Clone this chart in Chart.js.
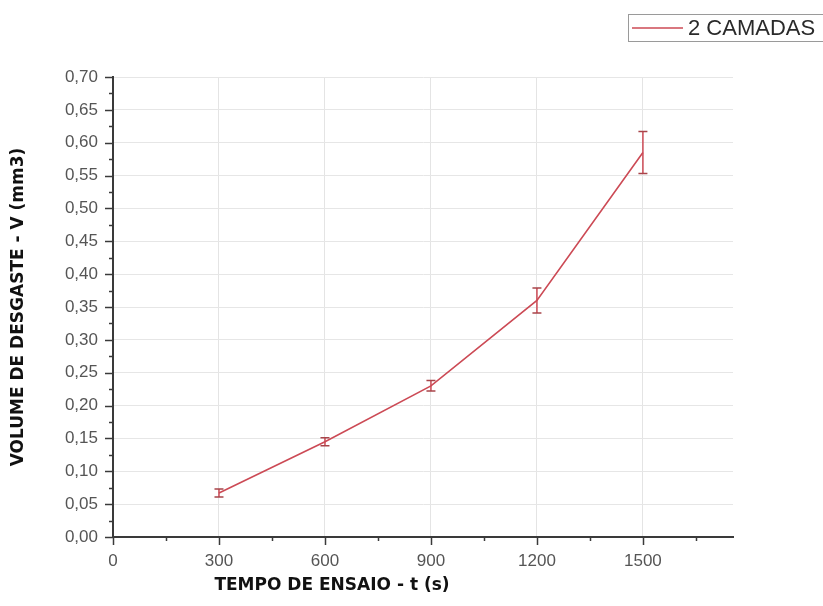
<!DOCTYPE html>
<html>
<head>
<meta charset="utf-8">
<script src="https://cdn.jsdelivr.net/npm/chart.js@4.4.1/dist/chart.umd.min.js"></script>
<style>
  html, body { margin: 0; padding: 0; background: #ffffff; }
  #wrap { position: relative; width: 823px; height: 606px; }
</style>
</head>
<body>
<div id="wrap"><canvas id="c" width="823" height="606"></canvas></div>
<script>
// Wear volume vs. test time, two-layer coating
const seriesLabel = '2 CAMADAS';
const times = [300, 600, 900, 1200, 1500];           // s
const volumes = [0.067, 0.145, 0.230, 0.360, 0.585];  // mm3
const errors = [0.006, 0.006, 0.008, 0.019, 0.032];   // ± mm3
const xTitle = 'TEMPO DE ENSAIO - t (s)';
const yTitle = 'VOLUME DE DESGASTE - V (mm3)';

const RED = '#cc4a55';
const AXIS = '#3a3a3a';
const FONT = 'Liberation Sans, Arial, sans-serif';
const TITLE_FONT = 'bold 17px "DejaVu Sans", sans-serif';

// error bars, minor ticks, axis titles and legend box
const decorations = {
  id: 'decorations',
  afterDatasetsDraw(chart) {
    const ctx = chart.ctx;
    const xs = chart.scales.x, ys = chart.scales.y;
    const area = chart.chartArea;
    ctx.save();

    // axis tick marks (major and minor)
    ctx.strokeStyle = AXIS;
    ctx.lineWidth = 1.5;
    for (let v = 0; v <= xs.max + 1e-9; v += 150) {
      const px = Math.round(xs.getPixelForValue(v)) + 0.5;
      const major = v % 300 === 0;
      ctx.beginPath();
      ctx.moveTo(px, area.bottom);
      ctx.lineTo(px, area.bottom + (major ? 8 : 4));
      ctx.stroke();
    }
    for (let i = 0; i <= 28; i++) {
      const v = i * 0.025;
      const py = Math.round(ys.getPixelForValue(v)) + 0.5;
      const major = i % 2 === 0;
      ctx.beginPath();
      ctx.moveTo(area.left, py);
      ctx.lineTo(area.left - (major ? 8 : 4), py);
      ctx.stroke();
    }

    // error bars
    ctx.strokeStyle = RED;
    ctx.lineWidth = 1.5;
    times.forEach((t, i) => {
      const px = xs.getPixelForValue(t);
      const top = ys.getPixelForValue(volumes[i] + errors[i]);
      const bot = ys.getPixelForValue(volumes[i] - errors[i]);
      ctx.beginPath();
      ctx.moveTo(px, top); ctx.lineTo(px, bot);
      ctx.stroke();
    });
    ctx.strokeStyle = '#a8444a';
    times.forEach((t, i) => {
      const px = xs.getPixelForValue(t);
      const top = ys.getPixelForValue(volumes[i] + errors[i]);
      const bot = ys.getPixelForValue(volumes[i] - errors[i]);
      ctx.beginPath();
      ctx.moveTo(px - 4.5, top); ctx.lineTo(px + 4.5, top);
      ctx.moveTo(px - 4.5, bot); ctx.lineTo(px + 4.5, bot);
      ctx.stroke();
    });

    // axis titles
    ctx.fillStyle = '#111111';
    ctx.font = TITLE_FONT;
    ctx.textAlign = 'center';
    ctx.textBaseline = 'middle';
    ctx.fillText(xTitle, 332, 586);
    ctx.save();
    ctx.translate(19, 307);
    ctx.rotate(-Math.PI / 2);
    ctx.fillText(yTitle, 0, 0);
    ctx.restore();

    // legend box
    ctx.strokeStyle = '#9a9a9a';
    ctx.lineWidth = 1;
    ctx.strokeRect(628.5, 14.5, 200, 27);
    ctx.strokeStyle = RED;
    ctx.lineWidth = 1.6;
    ctx.beginPath();
    ctx.moveTo(632, 28); ctx.lineTo(683, 28);
    ctx.stroke();
    ctx.fillStyle = '#2a2a2a';
    ctx.font = '22px ' + FONT;
    ctx.textAlign = 'left';
    ctx.fillText(seriesLabel, 688, 29);

    ctx.restore();
  }
};

new Chart(document.getElementById('c'), {
  type: 'line',
  data: {
    datasets: [{
      label: seriesLabel,
      data: times.map((t, i) => ({ x: t, y: volumes[i] })),
      borderColor: RED,
      borderWidth: 1.6,
      pointRadius: 0,
      tension: 0,
      fill: false
    }]
  },
  options: {
    responsive: false,
    animation: false,
    devicePixelRatio: 1,
    layout: { padding: { top: 77, right: 90, left: 0, bottom: 0 } },
    plugins: { legend: { display: false }, tooltip: { enabled: false } },
    scales: {
      x: {
        type: 'linear',
        min: 0,
        max: 1755,
        afterFit(s) { s.height = 69; },
        border: { color: AXIS, width: 2 },
        grid: {
          drawTicks: false,
          color: (c) => {
            const v = c.tick ? c.tick.value : 0;
            return (v > 0 && v <= 1500 && v % 300 === 0) ? '#e4e4e4' : 'rgba(0,0,0,0)';
          },
          lineWidth: 1
        },
        ticks: {
          stepSize: 150,
          padding: 14,
          color: '#555555',
          font: { family: FONT, size: 17 },
          autoSkip: false,
          maxRotation: 0,
          callback: (v) => (v % 300 === 0 && v <= 1500) ? String(v) : ''
        }
      },
      y: {
        type: 'linear',
        min: 0,
        max: 0.70,
        afterFit(s) { s.width = 113; },
        border: { color: AXIS, width: 2 },
        grid: {
          drawTicks: false,
          color: (c) => (c.tick && c.tick.value > 0.001) ? '#e6e6e6' : 'rgba(0,0,0,0)',
          lineWidth: 1
        },
        ticks: {
          stepSize: 0.05,
          padding: 15,
          color: '#555555',
          font: { family: FONT, size: 17 },
          callback: (v) => v.toFixed(2).replace('.', ',')
        }
      }
    }
  },
  plugins: [decorations]
});
</script>
</body>
</html>
